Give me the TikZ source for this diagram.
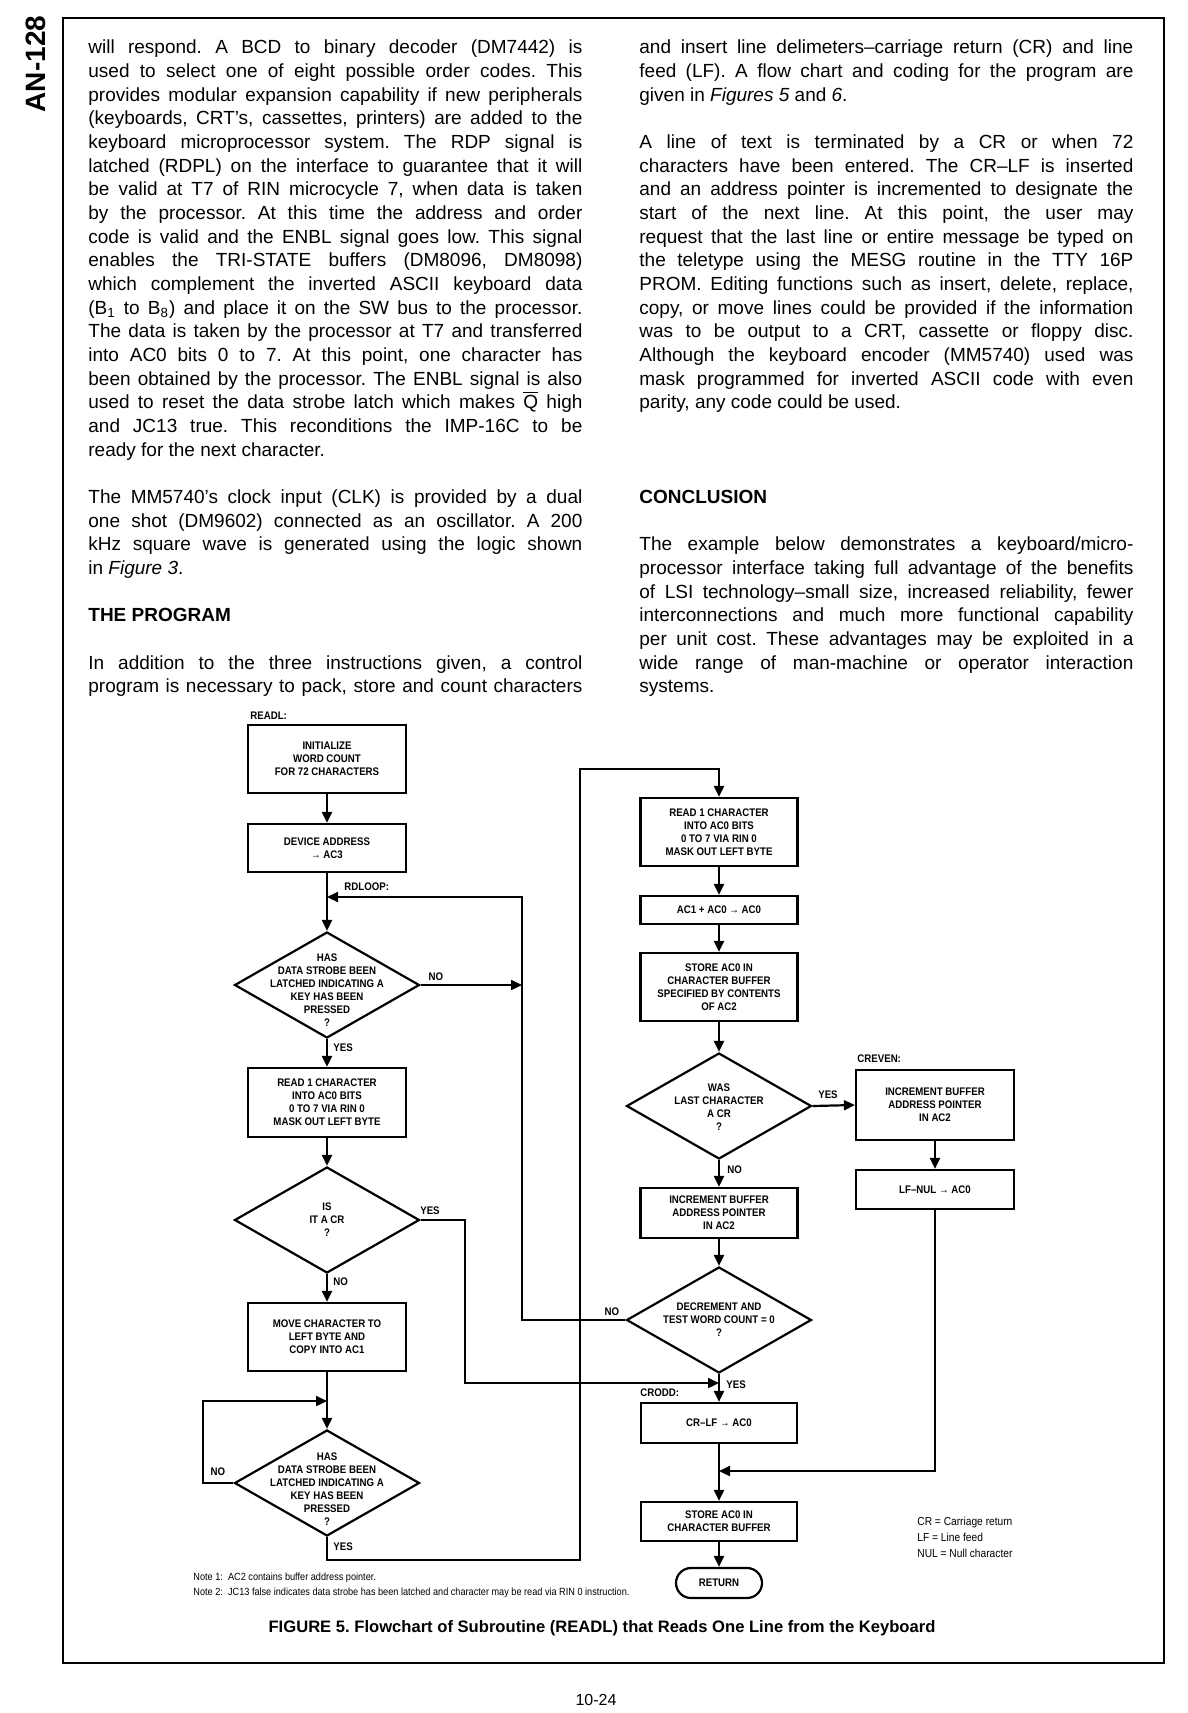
\documentclass[tikz,border=0pt]{standalone}
\usepackage{fontspec}
\setmainfont{Liberation Sans}
\newfontfamily\flowfam[FakeStretch=0.88,Ligatures=TeX]{Liberation Sans}
\usetikzlibrary{shapes.geometric,arrows.meta}
\frenchspacing
\newlength\colw \setlength\colw{247pt}
\newcommand\JL[1]{\hbox to\colw{#1}}
\newcommand\LL[1]{\hbox{#1}}
\newcommand\bodyf{\fontsize{9.5}{11.83}\selectfont}
\newcommand\flowf{\flowfam\bfseries\fontsize{5.5}{6.5}\selectfont}
\newcommand\notef{\flowfam\fontsize{5.2}{7.5}\selectfont}
\newcommand\legf{\flowfam\fontsize{5.8}{7.5}\selectfont}
\begin{document}
\begin{tikzpicture}[x=0.5pt,y=-0.5pt,
  pbox/.style={draw, line width=1.1pt, rectangle, inner sep=0pt, font=\flowf, align=center},
  dia/.style={draw, line width=1.1pt, diamond, inner sep=0pt, minimum width=92.5pt, minimum height=53pt},
  ftxt/.style={font=\flowf, align=center, inner sep=0pt},
  lbl/.style={font=\flowf, inner sep=0pt},
  conn/.style={line width=1.1pt, -{Triangle[length=5.5pt,width=5pt]}},
  para/.style={anchor=base west, inner sep=0pt, font=\bodyf},
  head/.style={anchor=base west, inner sep=0pt, font=\bodyf\bfseries}]
\useasboundingbox (0,0) rectangle (1188,1713);
\fill[white] (0,0) rectangle (1188,1713);
\draw[line width=1pt] (63,18) rectangle (1164,1663);
\node[rotate=90, inner sep=0pt, font=\bfseries\fontsize{14}{14}\selectfont] (an) at (36,64) {AN-128};

% ---------- left column text ----------
\node[para] (lp1) at (88,54) {\vtop{\baselineskip=11.83pt
\JL{will respond. A BCD to binary decoder (DM7442) is}
\JL{used to select one of eight possible order codes. This}
\JL{provides modular expansion capability if new peripherals}
\JL{(keyboards, CRT’s, cassettes, printers) are added to the}
\JL{keyboard microprocessor system. The RDP signal is}
\JL{latched (RDPL) on the interface to guarantee that it will}
\JL{be valid at T7 of RIN microcycle 7, when data is taken}
\JL{by the processor. At this time the address and order}
\JL{code is valid and the ENBL signal goes low. This signal}
\JL{enables the TRI-STATE buffers (DM8096, DM8098)}
\JL{which complement the inverted ASCII keyboard data}
\JL{(B\textsubscript{1} to B\textsubscript{8}) and place it on the SW bus to the processor.}
\JL{The data is taken by the processor at T7 and transferred}
\JL{into AC0 bits 0 to 7. At this point, one character has}
\JL{been obtained by the processor. The ENBL signal is also}
\JL{used to reset the data strobe latch which makes \ensuremath{\overline{\hbox{Q}}} high}
\JL{and JC13 true. This reconditions the IMP-16C to be}
\LL{ready for the next character.}}};
\node[para] (lp2) at (88,503.5) {\vtop{\baselineskip=11.83pt
\JL{The MM5740’s clock input (CLK) is provided by a dual}
\JL{one shot (DM9602) connected as an oscillator. A 200}
\JL{kHz square wave is generated using the logic shown}
\LL{in \textit{Figure 3}.}}};
\node[head] (h1) at (88,621.8) {THE PROGRAM};
\node[para] (lp3) at (88,669.2) {\vtop{\baselineskip=11.83pt
\JL{In addition to the three instructions given, a control}
\JL{program is necessary to pack, store and count characters}}};

% ---------- right column text ----------
\node[para] (rp1) at (639,54) {\vtop{\baselineskip=11.83pt
\JL{and insert line delimeters--carriage return (CR) and line}
\JL{feed (LF). A flow chart and coding for the program are}
\LL{given in \textit{Figures 5} and \textit{6}.}}};
\node[para] (rp2) at (639,148.6) {\vtop{\baselineskip=11.83pt
\JL{A line of text is terminated by a CR or when 72}
\JL{characters have been entered. The CR--LF is inserted}
\JL{and an address pointer is incremented to designate the}
\JL{start of the next line. At this point, the user may}
\JL{request that the last line or entire message be typed on}
\JL{the teletype using the MESG routine in the TTY 16P}
\JL{PROM. Editing functions such as insert, delete, replace,}
\JL{copy, or move lines could be provided if the information}
\JL{was to be output to a CRT, cassette or floppy disc.}
\JL{Although the keyboard encoder (MM5740) used was}
\JL{mask programmed for inverted ASCII code with even}
\LL{parity, any code could be used.}}};
\node[head] (h2) at (639,503.5) {CONCLUSION};
\node[para] (rp3) at (639,550.9) {\vtop{\baselineskip=11.83pt
\JL{The example below demonstrates a keyboard/micro-}
\JL{processor interface taking full advantage of the benefits}
\JL{of LSI technology--small size, increased reliability, fewer}
\JL{interconnections and much more functional capability}
\JL{per unit cost. These advantages may be exploited in a}
\JL{wide range of man-machine or operator interaction}
\LL{systems.}}};

% ---------- flowchart: left column ----------
\node[lbl, anchor=west] (readl) at (250,716) {READL:};
\node[pbox, minimum width=79pt, minimum height=34pt] (b1) at (327,759) {INITIALIZE\\WORD COUNT\\FOR 72 CHARACTERS};
\node[pbox, minimum width=79pt, minimum height=24pt] (b2) at (327,848) {DEVICE ADDRESS\\→ AC3};
\node[lbl, anchor=west] (rdloop) at (344,887) {RDLOOP:};
\node[dia] (d1) at (327,985) {};
\node[ftxt] (d1t) at (327,990.5) {HAS\\DATA STROBE BEEN\\LATCHED INDICATING A\\KEY HAS BEEN\\PRESSED\\?};
\node[lbl] (d1no) at (436,977) {NO};
\node[lbl, anchor=west] (d1yes) at (333,1048) {YES};
\node[pbox, minimum width=79pt, minimum height=34.5pt] (b3) at (327,1102.5) {READ 1 CHARACTER\\INTO AC0 BITS\\0 TO 7 VIA RIN 0\\MASK OUT LEFT BYTE};
\node[dia] (d2) at (327,1220) {};
\node[ftxt] (d2t) at (327,1219.5) {IS\\IT A CR\\?};
\node[lbl] (d2yes) at (430,1211) {YES};
\node[lbl, anchor=west] (d2no) at (333,1282) {NO};
\node[pbox, minimum width=79pt, minimum height=34pt] (b4) at (327,1337) {MOVE CHARACTER TO\\LEFT BYTE AND\\COPY INTO AC1};
\node[dia] (d3) at (327,1483) {};
\node[ftxt] (d3t) at (327,1489) {HAS\\DATA STROBE BEEN\\LATCHED INDICATING A\\KEY HAS BEEN\\PRESSED\\?};
\node[lbl] (d3no) at (218,1472) {NO};
\node[lbl, anchor=west] (d3yes) at (333,1547) {YES};

% ---------- flowchart: right column ----------
\node[pbox, minimum width=78.5pt, minimum height=34pt] (r1) at (719,832) {READ 1 CHARACTER\\INTO AC0 BITS\\0 TO 7 VIA RIN 0\\MASK OUT LEFT BYTE};
\node[pbox, minimum width=78.5pt, minimum height=14pt] (r2) at (719,910) {AC1 + AC0 → AC0};
\node[pbox, minimum width=78.5pt, minimum height=34pt] (r3) at (719,987) {STORE AC0 IN\\CHARACTER BUFFER\\SPECIFIED BY CONTENTS\\OF AC2};
\node[dia] (r4) at (719,1106) {};
\node[ftxt] (r4t) at (719,1107) {WAS\\LAST CHARACTER\\A CR\\?};
\node[lbl] (r4yes) at (828,1095) {YES};
\node[lbl, anchor=west] (r4no) at (727,1170) {NO};
\node[lbl, anchor=west] (creven) at (857,1059) {CREVEN:};
\node[pbox, minimum width=79pt, minimum height=35pt] (cb) at (935,1105) {INCREMENT BUFFER\\ADDRESS POINTER\\IN AC2};
\node[pbox, minimum width=79pt, minimum height=19.5pt] (lf) at (935,1189.5) {LF–NUL → AC0};
\node[pbox, minimum width=78.5pt, minimum height=25pt] (r5) at (719,1213) {INCREMENT BUFFER\\ADDRESS POINTER\\IN AC2};
\node[dia] (r6) at (719,1320) {};
\node[ftxt] (r6t) at (719,1320) {DECREMENT AND\\TEST WORD COUNT = 0\\?};
\node[lbl] (r6no) at (612,1312) {NO};
\node[lbl, anchor=west] (r6yes) at (726,1385) {YES};
\node[lbl, anchor=west] (crodd) at (640,1393) {CRODD:};
\node[pbox, minimum width=78pt, minimum height=20pt] (cr) at (719,1423) {CR–LF → AC0};
\node[pbox, minimum width=78pt, minimum height=19.5pt] (st) at (719,1521.5) {STORE AC0 IN\\CHARACTER BUFFER};
\node[pbox, rounded corners=7.5pt, minimum width=43pt, minimum height=15pt] (ret) at (719,1583) {RETURN};

% legend, notes, caption, page number
\node[anchor=west, inner sep=0pt, font=\legf] (lg1) at (917,1522) {CR = Carriage return};
\node[anchor=west, inner sep=0pt, font=\legf] (lg2) at (917,1537) {LF = Line feed};
\node[anchor=west, inner sep=0pt, font=\legf] (lg3) at (917,1553) {NUL = Null character};
\node[anchor=west, inner sep=0pt, font=\notef] (n1) at (193,1578) {Note 1:\enspace AC2 contains buffer address pointer.};
\node[anchor=west, inner sep=0pt, font=\notef] (n2) at (193,1593) {Note 2:\enspace JC13 false indicates data strobe has been latched and character may be read via RIN 0 instruction.};
\node[inner sep=0pt, font=\bfseries\fontsize{8.3}{10}\selectfont] (cap) at (602,1628) {FIGURE 5. Flowchart of Subroutine (READL) that Reads One Line from the Keyboard};
\node[inner sep=0pt, font=\fontsize{8}{10}\selectfont] (pg) at (596,1700) {10-24};

% ---------- junction coordinates ----------
\coordinate (jrd) at (327,897);
\coordinate (c522t) at (522,897);
\coordinate (jd1) at (522,985);
\coordinate (c465) at (465,1383);
\coordinate (jcr) at (719,1383);
\coordinate (c203) at (203,1401);
\coordinate (jd3) at (327,1401);
\coordinate (cyb) at (580,1560);
\coordinate (cyt) at (580,769);
\coordinate (jst) at (719,1471);

% ---------- connectors ----------
\draw[conn] (b1.south) -- (b2.north);
\draw[conn] (b2.south) -- (d1.north);
\draw[conn] (r6.west) -| (c522t) -- (jrd);
\draw[conn] (d1.east) -- (jd1);
\draw[conn] (d1.south) -- (b3.north);
\draw[conn] (b3.south) -- (d2.north);
\draw[conn] (d2.south) -- (b4.north);
\draw[conn] (d2.east) -| (c465) -- (jcr);
\draw[conn] (b4.south) -- (d3.north);
\draw[conn] (d3.west) -| (c203) -- (jd3);
\draw[conn] (d3.south) |- (cyb) -- (cyt) -| (r1.north);
\draw[conn] (r1.south) -- (r2.north);
\draw[conn] (r2.south) -- (r3.north);
\draw[conn] (r3.south) -- (r4.north);
\draw[conn] (r4.east) -- (cb.west);
\draw[conn] (r4.south) -- (r5.north);
\draw[conn] (r5.south) -- (r6.north);
\draw[conn] (r6.south) -- (cr.north);
\draw[conn] (cb.south) -- (lf.north);
\draw[conn] (lf.south) |- (jst);
\draw[conn] (cr.south) -- (st.north);
\draw[conn] (st.south) -- (ret.north);
\end{tikzpicture}
\end{document}
